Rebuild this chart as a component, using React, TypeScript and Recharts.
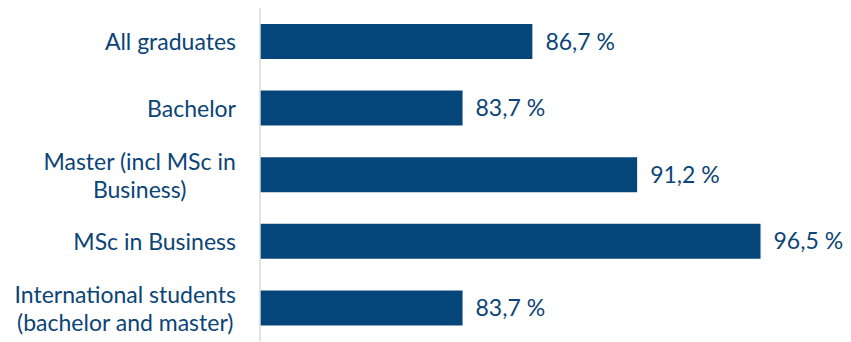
import React from 'react';
import { BarChart, Bar, XAxis, YAxis, LabelList } from 'recharts';

const categories = [
  'All graduates',
  'Bachelor',
  'Master (incl MSc in\nBusiness)',
  'MSc in Business',
  'International students\n(bachelor and master)',
];
const shares = [86.7, 83.7, 91.2, 96.5, 83.7];
const axisDomain = [75, 100];

const data = categories.map((name, i) => ({ name, value: shares[i] }));

const BLUE = '#05457a';
const TEXT = '#0b4477';
const FONT = 'Lato, "Open Sans", sans-serif';
const FONT_SIZE = 23;

let ctx: CanvasRenderingContext2D | null = null;
const measure = (s: string) => {
  if (!ctx) ctx = document.createElement('canvas').getContext('2d');
  if (!ctx) return s.length * FONT_SIZE * 0.5;
  ctx.font = `${FONT_SIZE}px ${FONT}`;
  return ctx.measureText(s).width;
};

const CategoryTick = (props: any) => {
  const { x, y, payload } = props;
  const lines: string[] = String(payload.value).split('\n');
  const lineH = 28;
  if (lines.length === 1) {
    return (
      <text x={x} y={y} textAnchor="end" dominantBaseline="central" fill={TEXT} fontSize={FONT_SIZE} fontFamily={FONT}>
        {lines[0]}
      </text>
    );
  }
  const w = Math.max(...lines.map(measure));
  const cx = x - w / 2;
  const start = y - ((lines.length - 1) * lineH) / 2;
  return (
    <text textAnchor="middle" dominantBaseline="central" fill={TEXT} fontSize={FONT_SIZE} fontFamily={FONT}>
      {lines.map((l, i) => (
        <tspan key={i} x={cx} y={start + i * lineH}>
          {l}
        </tspan>
      ))}
    </text>
  );
};

const fmt = (v: any) => `${Number(v).toFixed(1).replace('.', ',')} %`;

export default function App() {
  return (
    <div style={{ position: 'absolute', left: 0, top: 0, background: '#fff' }}>
      <BarChart
        width={851}
        height={342}
        data={data}
        layout="vertical"
        margin={{ top: 8, right: 9, bottom: 1, left: 0 }}
      >
        <XAxis type="number" domain={axisDomain} hide allowDataOverflow />
        <YAxis
          type="category"
          dataKey="name"
          width={260}
          tickLine={false}
          tickSize={0}
          tickMargin={24}
          axisLine={{ stroke: '#d9d9d9', strokeWidth: 1.5 }}
          tick={<CategoryTick />}
          interval={0}
        />
        <Bar dataKey="value" fill={BLUE} barSize={35} isAnimationActive={false}>
          <LabelList
            dataKey="value"
            position="right"
            offset={13}
            formatter={fmt}
            fill={TEXT}
            fontSize={FONT_SIZE}
            fontFamily={FONT}
          />
        </Bar>
      </BarChart>
    </div>
  );
}
